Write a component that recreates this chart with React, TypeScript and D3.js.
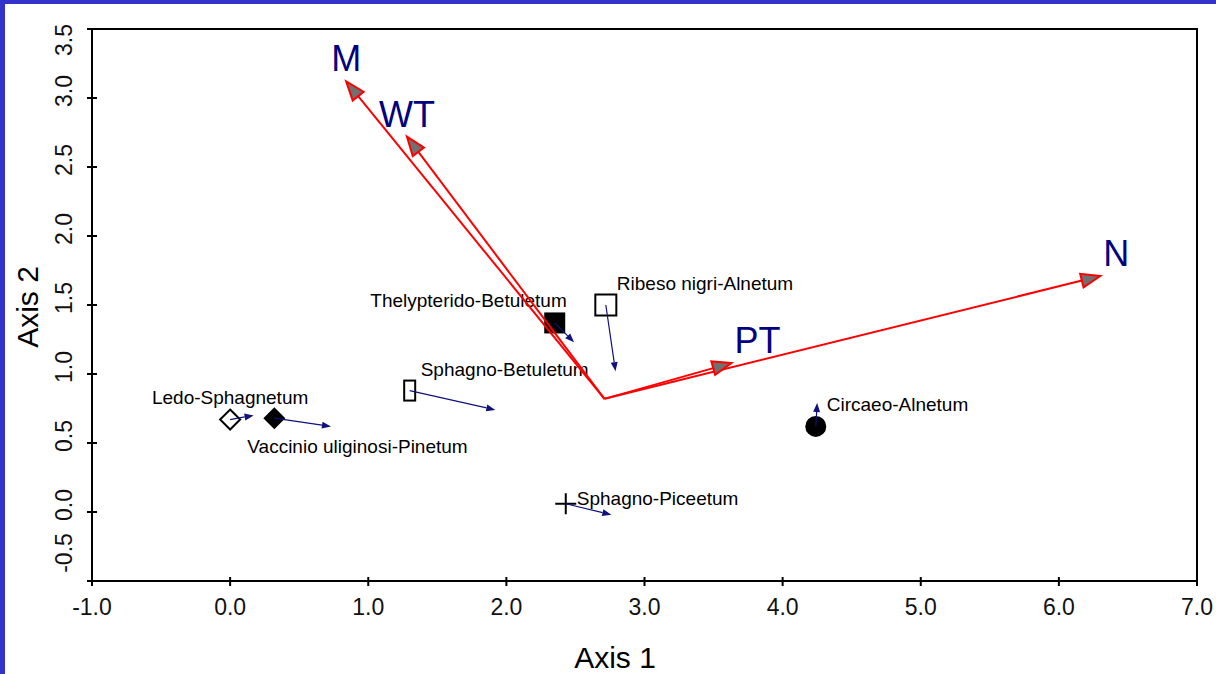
import React from 'react';
import * as d3 from 'd3';

// site scores (Axis 1, Axis 2) and where their small arrows point
const sites = [
  'Ledo-Sphagnetum',
  'Vaccinio uliginosi-Pinetum',
  'Sphagno-Betuletum',
  'Thelypterido-Betuletum',
  'Ribeso nigri-Alnetum',
  'Circaeo-Alnetum',
  'Sphagno-Piceetum',
];
const siteAxis1 = [0.0, 0.32, 1.3, 2.35, 2.72, 4.24, 2.43];
const siteAxis2 = [0.67, 0.68, 0.88, 1.37, 1.5, 0.62, 0.06];
const shiftAxis1 = [0.17, 0.73, 1.92, 2.49, 2.79, 4.25, 2.76];
const shiftAxis2 = [0.7, 0.62, 0.74, 1.23, 1.02, 0.79, -0.02];
const siteSymbols = ['diamondOpen', 'diamond', 'rectOpen', 'square', 'squareOpen', 'circle', 'plus'];
const labelSides = ['top', 'bottom', 'topRight', 'topLeft', 'topRight', 'topRight', 'right'];

// environmental vectors
const envVars = ['M', 'WT', 'N', 'PT'];
const envAxis1 = [0.84, 1.28, 6.3, 3.63];
const envAxis2 = [3.12, 2.72, 1.71, 1.08];
const envOrigin = [2.71, 0.82];

const xTicks = [-1, 0, 1, 2, 3, 4, 5, 6, 7];
const yTicks = [-0.5, 0, 0.5, 1, 1.5, 2, 2.5, 3, 3.5];

const FONT = '"Liberation Sans", Arial, sans-serif';
const NAVY = '#10107e';

const fmt = d3
  .formatLocale({ decimal: '.', thousands: ',', grouping: [3], currency: ['', ''], minus: '-' })
  .format('.1f');

// simple arrow: line plus triangular head at the end point
function Arrow({ x0, y0, x1, y1, len, half, stroke, fill, width, headStroke }) {
  const dx = x1 - x0;
  const dy = y1 - y0;
  const d = Math.sqrt(dx * dx + dy * dy) || 1;
  const ux = dx / d;
  const uy = dy / d;
  const bx = x1 - ux * len;
  const by = y1 - uy * len;
  const pts = [
    [x1, y1],
    [bx - uy * half, by + ux * half],
    [bx + uy * half, by - ux * half],
  ];
  return (
    <g>
      <line x1={x0} y1={y0} x2={bx} y2={by} stroke={stroke} strokeWidth={width} />
      <polygon
        points={pts.map((p) => p.join(',')).join(' ')}
        fill={fill}
        stroke={headStroke ? stroke : 'none'}
        strokeWidth={headStroke ? 2 : 0}
        strokeLinejoin="miter"
      />
    </g>
  );
}

function Symbol({ type, cx, cy }) {
  switch (type) {
    case 'diamondOpen':
      return (
        <path d={`M${cx},${cy - 10}L${cx + 10},${cy}L${cx},${cy + 10}L${cx - 10},${cy}Z`} fill="#fff" stroke="#000" strokeWidth={2} />
      );
    case 'diamond':
      return <path d={`M${cx},${cy - 11}L${cx + 11},${cy}L${cx},${cy + 11}L${cx - 11},${cy}Z`} fill="#000" />;
    case 'rectOpen':
      return <rect x={cx - 5.5} y={cy - 10} width={11} height={20} fill="#fff" stroke="#000" strokeWidth={2} />;
    case 'square':
      return <rect x={cx - 10.5} y={cy - 10.5} width={21} height={21} fill="#000" />;
    case 'squareOpen':
      return <rect x={cx - 10.5} y={cy - 10.5} width={21} height={21} fill="#fff" stroke="#000" strokeWidth={2} />;
    case 'circle':
      return <circle cx={cx} cy={cy} r={10.5} fill="#000" />;
    case 'plus':
      return (
        <path d={`M${cx - 10.5},${cy}H${cx + 10.5}M${cx},${cy - 10.5}V${cy + 10.5}`} stroke="#000" strokeWidth={2} fill="none" />
      );
    default:
      return null;
  }
}

function labelProps(side, cx, cy) {
  switch (side) {
    case 'top':
      return { x: cx, y: cy - 16, anchor: 'middle' };
    case 'bottom':
      return { x: cx - 27, y: cy + 35, anchor: 'start' };
    case 'topRight':
      return { x: cx + 11, y: cy - 15, anchor: 'start' };
    case 'topLeft':
      return { x: cx + 12, y: cy - 16, anchor: 'end' };
    case 'right':
      return { x: cx + 11, y: cy + 1, anchor: 'start' };
    default:
      return { x: cx, y: cy, anchor: 'start' };
  }
}

export default function App() {
  const W = 1216;
  const H = 674;
  const left = 92;
  const right = 1197;
  const top = 29;
  const bottom = 581;

  const x = d3.scaleLinear().domain([-1, 7]).range([left, right]);
  const y = d3.scaleLinear().domain([-0.5, 3.5]).range([bottom, top]);

  const ox = x(envOrigin[0]);
  const oy = y(envOrigin[1]);

  return (
    <svg
      width={W}
      height={H}
      style={{ position: 'absolute', left: 0, top: 0, background: '#fff' }}
      fontFamily={FONT}
    >
      {/* blue slide border */}
      <rect x={0} y={0} width={W} height={4} fill="#3333cc" />
      <rect x={0} y={0} width={5} height={H} fill="#3333cc" />

      {/* frame */}
      <rect x={left} y={top} width={right - left} height={bottom - top} fill="none" stroke="#000" strokeWidth={2} />

      {/* x axis */}
      {xTicks.map((t) => (
        <g key={'x' + t}>
          <line x1={x(t)} x2={x(t)} y1={bottom - 4} y2={bottom + 5} stroke="#000" strokeWidth={2} />
          <text x={x(t)} y={615} textAnchor="middle" fontSize={23} fill="#111">
            {fmt(t)}
          </text>
        </g>
      ))}

      {/* y axis */}
      {yTicks.map((t) => {
        const c = Math.max(top + 11, Math.min(bottom - 28, y(t) - 7));
        return (
          <g key={'y' + t}>
            <line x1={left - 5} x2={left + 5} y1={y(t)} y2={y(t)} stroke="#000" strokeWidth={2} />
            <text
              transform={`translate(72,${c}) rotate(-90)`}
              textAnchor="middle"
              fontSize={23}
              fill="#111"
            >
              {fmt(t)}
            </text>
          </g>
        );
      })}

      <text x={615} y={668} textAnchor="middle" fontSize={30} fill="#000">
        Axis 1
      </text>
      <text transform="translate(38,307) rotate(-90)" textAnchor="middle" fontSize={30} fill="#000">
        Axis 2
      </text>

      {/* site symbols and labels */}
      {sites.map((s, i) => {
        const cx = x(siteAxis1[i]);
        const cy = y(siteAxis2[i]);
        const lp = labelProps(labelSides[i], cx, cy);
        return (
          <g key={s}>
            <Symbol type={siteSymbols[i]} cx={cx} cy={cy} />
            <text x={lp.x} y={lp.y} textAnchor={lp.anchor} fontSize={19} fill="#000">
              {s}
            </text>
          </g>
        );
      })}

      {/* small blue shift arrows */}
      {sites.map((s, i) => (
        <Arrow
          key={'a' + s}
          x0={x(siteAxis1[i])}
          y0={y(siteAxis2[i])}
          x1={x(shiftAxis1[i])}
          y1={y(shiftAxis2[i])}
          len={9}
          half={3.5}
          stroke={NAVY}
          fill={NAVY}
          width={1.2}
          headStroke={false}
        />
      ))}

      {/* environmental vectors */}
      {envVars.map((v, i) => {
        const tx = x(envAxis1[i]);
        const ty = y(envAxis2[i]);
        const toRight = tx > ox;
        return (
          <g key={v}>
            <Arrow x0={ox} y0={oy} x1={tx} y1={ty} len={19} half={7} stroke="#ff0000" fill="#707070" width={2} headStroke={true} />
            <text
              x={toRight ? tx + 3 : tx}
              y={ty - 10}
              textAnchor={toRight ? 'start' : 'middle'}
              fontSize={36}
              fill="#000080"
            >
              {v}
            </text>
          </g>
        );
      })}
    </svg>
  );
}
